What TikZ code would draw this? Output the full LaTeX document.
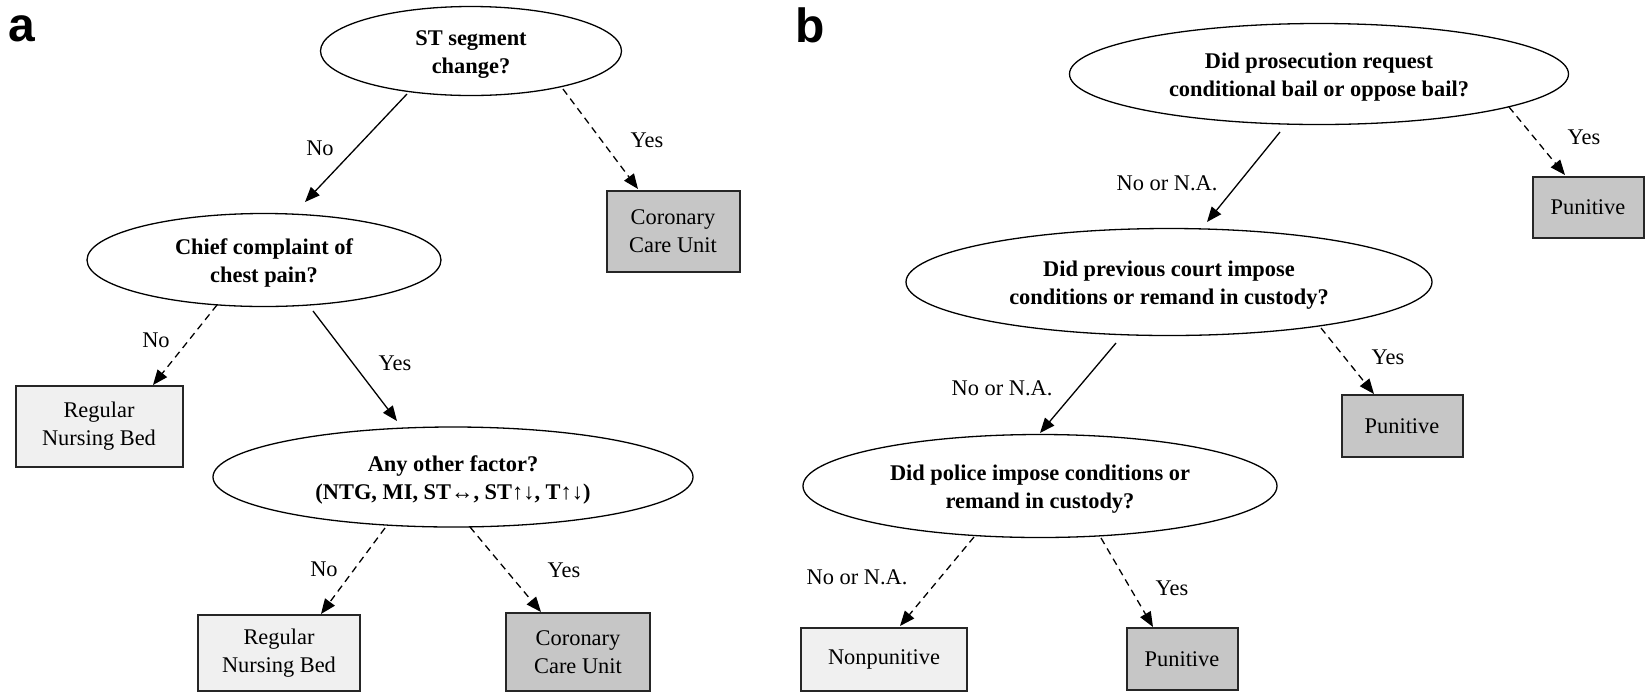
\documentclass[tikz,border=0pt]{standalone}
\usepackage{fontspec}
\setmainfont{Liberation Serif}
\newfontfamily\panelfont{Liberation Sans}
\usetikzlibrary{shapes.geometric,arrows.meta,calc}
\definecolor{boxlight}{RGB}{240,240,240}
\definecolor{boxdark}{RGB}{198,198,198}
\newcommand\qstrut{\rule{0pt}{10.7pt}}
\begin{document}
\begin{tikzpicture}[x=0.5pt,y=-0.5pt,
  every node/.style={font=\rmfamily\fontsize{11.2}{14.2}\selectfont},
  q/.style={ellipse,draw,line width=0.65pt,fill=white,inner sep=0pt,align=center,
    font=\rmfamily\fontsize{11.2}{14}\selectfont\bfseries},
  lbox/.style={rectangle,draw=black!85,line width=1pt,fill=boxlight,inner sep=0pt,align=center},
  dbox/.style={lbox,fill=boxdark},
  conn/.style={line width=0.65pt,-{Triangle[length=7.5pt,width=6pt]}},
  dconn/.style={conn,dash pattern=on 3.5pt off 2.5pt},
  lab/.style={inner sep=0pt},
  panel/.style={font=\panelfont\bfseries\fontsize{24}{24}\selectfont,inner sep=0pt,anchor=base}
]
\useasboundingbox (0,0) rectangle (1646,692);
\fill[white] (0,0) rectangle (1646,692);

% panel labels
\node[panel] (pa) at (22,41) {a};
\node[panel] (pb) at (810,42) {b};

% ---------------- panel a ----------------
\node[q,minimum width=150.5pt,minimum height=44.5pt] (e1) at (471,51) {\qstrut ST segment\\change?};
\node[dbox,minimum width=66.5pt,minimum height=40.5pt] (ccu1) at (673,231) {Coronary\\Care Unit};
\node[q,minimum width=177pt,minimum height=46.5pt] (e2) at (264,260) {\qstrut Chief complaint of\\chest pain?};
\node[lbox,minimum width=83.5pt,minimum height=40.5pt] (rnb1) at (99,426) {Regular\\Nursing Bed};
\node[q,minimum width=240pt,minimum height=50pt] (e3) at (453,477) {\qstrut Any other factor?\\(NTG, MI, ST↔, ST↑↓, T↑↓)};
\node[lbox,minimum width=81pt,minimum height=38pt] (rnb2) at (279,653) {Regular\\Nursing Bed};
\node[dbox,minimum width=72pt,minimum height=39pt] (ccu2) at (578,652) {Coronary\\Care Unit};

\draw[conn]  ($(e1)+(-64,43)$) -- ($(e2)+(41,-58)$);
\draw[dconn] ($(e1)+(92,38)$)  -- ($(ccu1)+(-35,-42)$);
\draw[dconn] ($(e2)+(-47,45)$) -- ($(rnb1)+(54,-41)$);
\draw[conn]  ($(e2)+(49,51)$)  -- ($(e3)+(-56,-56)$);
\draw[dconn] ($(e3)+(-68,51)$) -- ($(rnb2)+(42,-39)$);
\draw[dconn] ($(e3)+(17,50)$)  -- ($(ccu2)+(-37,-40)$);

\node[lab] (la1) at (320,148) {No};
\node[lab] (la2) at (647,140) {Yes};
\node[lab] (la3) at (156,340) {No};
\node[lab] (la4) at (395,363) {Yes};
\node[lab] (la5) at (324,569) {No};
\node[lab] (la6) at (564,570) {Yes};

% ---------------- panel b ----------------
\node[q,minimum width=249.5pt,minimum height=50.5pt] (e4) at (1319,74) {\qstrut Did prosecution request\\conditional bail or oppose bail?};
\node[dbox,minimum width=55.5pt,minimum height=30.5pt] (p1) at (1588,207) {Punitive};
\node[q,minimum width=263pt,minimum height=53.5pt] (e5) at (1169,282) {\qstrut Did previous court impose\\conditions or remand in custody?};
\node[dbox,minimum width=60.5pt,minimum height=31pt] (p2) at (1402,426) {Punitive};
\node[q,minimum width=237pt,minimum height=51.5pt] (e6) at (1040,486) {\qstrut Did police impose conditions or\\remand in custody?};
\node[lbox,minimum width=83pt,minimum height=31.5pt] (np) at (884,659) {Nonpunitive};
\node[dbox,minimum width=55.5pt,minimum height=31pt] (p3) at (1182,659) {Punitive};

\draw[conn]  ($(e4)+(-39,58)$)  -- ($(e5)+(38,-60)$);
\draw[dconn] ($(e4)+(190,33)$)  -- ($(p1)+(-23,-32)$);
\draw[conn]  ($(e5)+(-53,61)$)  -- ($(e6)+(0,-53)$);
\draw[dconn] ($(e5)+(152,46)$)  -- ($(p2)+(-28,-32)$);
\draw[dconn] ($(e6)+(-66,51)$)  -- ($(np)+(16,-33)$);
\draw[dconn] ($(e6)+(61,52)$)   -- ($(p3)+(-29,-32)$);

\node[lab] (lb1) at (1167,183) {No or N.A.};
\node[lab] (lb2) at (1584,137) {Yes};
\node[lab] (lb3) at (1002,388) {No or N.A.};
\node[lab] (lb4) at (1388,357) {Yes};
\node[lab] (lb5) at (857,577) {No or N.A.};
\node[lab] (lb6) at (1172,588) {Yes};
\end{tikzpicture}
\end{document}
